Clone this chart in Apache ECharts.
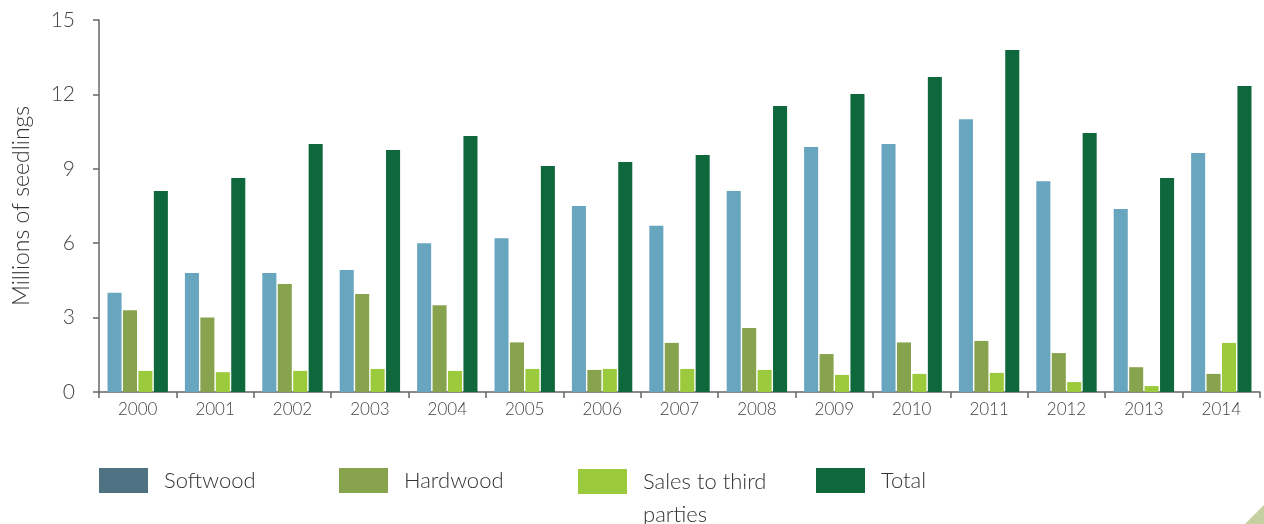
<!DOCTYPE html>
<html>
<head>
<meta charset="utf-8">
<script src="https://cdn.jsdelivr.net/npm/echarts@6/dist/echarts.min.js"></script>
<style>
html,body{margin:0;padding:0;background:#fff;}
#c{width:1264px;height:524px;}
</style>
</head>
<body>
<div id="c"></div>
<script>
var years = ['2000','2001','2002','2003','2004','2005','2006','2007','2008','2009','2010','2011','2012','2013','2014'];
var softwood = [4.0, 4.8, 4.8, 4.92, 6.0, 6.2, 7.5, 6.7, 8.1, 9.88, 10.0, 11.0, 8.5, 7.38, 9.64];
var hardwood = [3.3, 3.0, 4.35, 3.95, 3.5, 2.0, 0.89, 1.98, 2.58, 1.53, 2.0, 2.06, 1.57, 1.0, 0.73];
var sales = [0.85, 0.8, 0.85, 0.93, 0.85, 0.93, 0.93, 0.93, 0.89, 0.69, 0.73, 0.77, 0.4, 0.24, 1.98];
var total = [8.1, 8.63, 10.0, 9.76, 10.32, 9.11, 9.27, 9.56, 11.53, 12.02, 12.7, 13.79, 10.44, 8.63, 12.34];
var yTicks = [0, 3, 6, 9, 12, 15];

var FONT = 'Lato';
var chart = echarts.init(document.getElementById('c'), null, {renderer: 'canvas'});

function legendAt(name, left, color, opts) {
  var l = {
    left: left, top: 468,
    padding: 0,
    itemWidth: 49, itemHeight: 25,
    icon: 'rect',
    selectedMode: false,
    data: [{name: name, itemStyle: {color: color}}],
    textStyle: {fontFamily: FONT, fontSize: 22, fontWeight: 300, color: '#333', padding: [0, 0, 0, 11]}
  };
  if (opts) { for (var k in opts) l[k] = opts[k]; }
  return l;
}

chart.setOption({
  animation: false,
  grid: {left: 99, right: 4, top: 20, bottom: 132, containLabel: false},
  legend: [
    legendAt('Softwood', 99, '#4E7282'),
    legendAt('Hardwood', 339, '#88A34E'),
    legendAt('Sales to third parties', 578, '#9BCB3C', {
      top: 465,
      itemHeight: 66,
      icon: 'path://M0,4H49V29H0Z M0,0h0.01v0.01h-0.01Z M0,66h0.01v0.01h-0.01Z',
      formatter: function () { return 'Sales to third\nparties'; },
      textStyle: {fontFamily: FONT, fontSize: 22, fontWeight: 300, color: '#333', lineHeight: 33, padding: [0, 0, 0, 11]}
    }),
    legendAt('Total', 816, '#0E683B')
  ],
  xAxis: {
    type: 'category',
    data: years,
    axisLine: {show: true, lineStyle: {color: '#666', width: 1.5}},
    axisTick: {show: true, length: 6, lineStyle: {color: '#666', width: 1.5}},
    axisLabel: {fontFamily: FONT, fontSize: 17, fontWeight: 300, color: '#444', margin: 9}
  },
  yAxis: {
    type: 'value',
    min: 0, max: 15, interval: 3,
    name: 'Millions of seedlings',
    nameLocation: 'middle',
    nameGap: 66,
    nameTextStyle: {fontFamily: FONT, fontSize: 23, fontWeight: 300, color: '#333'},
    splitLine: {show: false},
    axisLine: {show: true, lineStyle: {color: '#666', width: 1.5}},
    axisTick: {show: true, length: 6, lineStyle: {color: '#666', width: 1.5}},
    axisLabel: {
      fontFamily: FONT, fontSize: 21, fontWeight: 300, color: '#444', margin: 24,
      formatter: function (v) { return yTicks.indexOf(v) >= 0 ? String(v) : ''; }
    }
  },
  series: [
    {name: 'Softwood', type: 'bar', data: softwood, itemStyle: {color: '#68A5BF'}, barGap: '10%', barCategoryGap: '22%'},
    {name: 'Hardwood', type: 'bar', data: hardwood, itemStyle: {color: '#88A34E'}},
    {name: 'Sales to third parties', type: 'bar', data: sales, itemStyle: {color: '#9BCB3C'}},
    {name: 'Total', type: 'bar', data: total, itemStyle: {color: '#0E683B'}}
  ],
  graphic: [{
    type: 'polygon',
    shape: {points: [[1264, 505], [1264, 524], [1245, 524]]},
    style: {fill: '#C5D0A0'},
    silent: true
  }]
});
</script>
</body>
</html>
